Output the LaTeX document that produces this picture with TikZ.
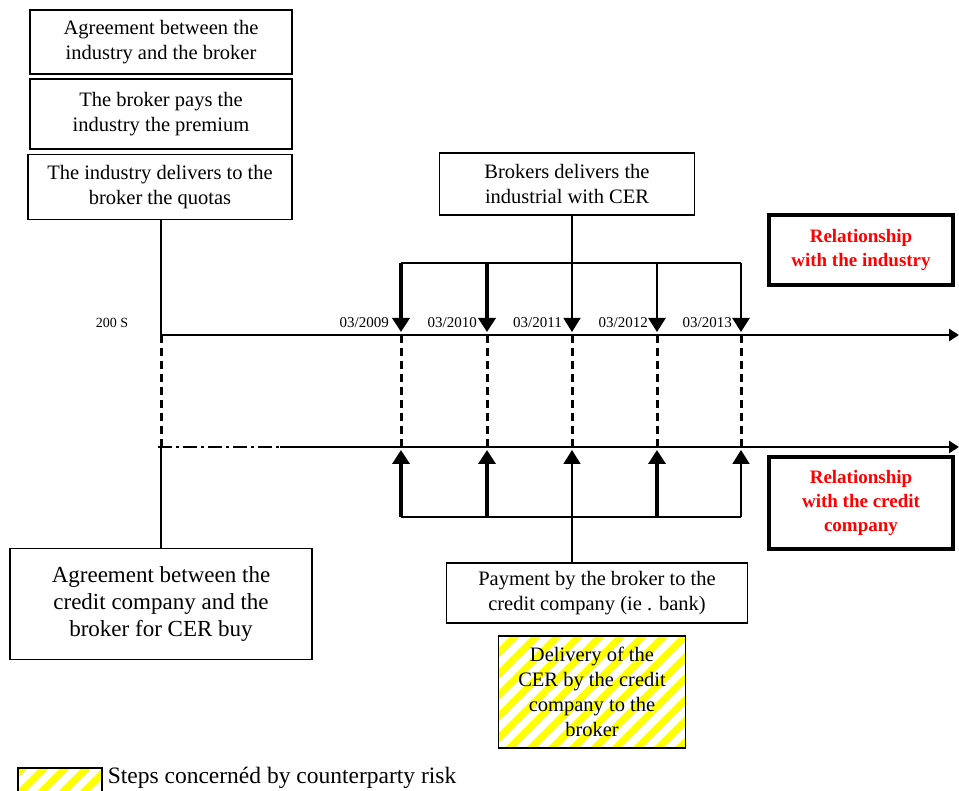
\documentclass[tikz,border=0pt]{standalone}
\usepackage{fontspec}
\setmainfont{Liberation Serif}
\usetikzlibrary{arrows.meta,positioning,patterns.meta}
\definecolor{relred}{RGB}{255,0,0}
\definecolor{hatchyellow}{RGB}{255,255,0}
\tikzset{
  stepbox/.style={rectangle,draw=black,line width=1.2pt,align=center,font=\fontsize{20.5}{25}\selectfont,inner sep=2pt},
  riskbox/.style={stepbox,pattern={Lines[angle=45,distance=15pt,line width=7pt]},pattern color=hatchyellow},
  relbox/.style={rectangle,draw=black,line width=4.5pt,align=center,text=relred,font=\fontsize{19}{24}\selectfont\bfseries},
  datelbl/.style={font=\fontsize{15}{17}\selectfont,anchor=base east,inner sep=0pt},
  timeline/.style={line width=2.8pt,-{Triangle[width=12pt,length=10pt]}},
  dropline/.style={line width=#1,-{Triangle[width=17pt,length=14pt]}},
  bracket/.style={line width=2pt},
  linkline/.style={line width=1.3pt},
  gapline/.style={line width=3pt,dash pattern=on 8pt off 5pt}
}

\begin{document}
\begin{tikzpicture}[x=1pt,y=-1pt]
  \useasboundingbox (0,0) rectangle (959,791);

  %% INDUSTRY SIDE
  \node[stepbox,minimum width=262pt,minimum height=64pt]
    (agr_ind) at (161,42) {Agreement between the\\industry and the broker};
  \node[stepbox,minimum width=262pt,minimum height=70pt]
    (premium) at (161,114) {The broker pays the\\industry the premium};
  \node[stepbox,minimum width=264pt,minimum height=65pt]
    (quotas) at (160,187) {The industry delivers to the\\broker the quotas};
  \node[stepbox,minimum width=255pt,minimum height=62pt]
    (cerdeliv) at (567,184) {Brokers delivers the\\industrial with CER};
  \node[relbox,minimum width=184pt,minimum height=70pt]
    (rel_ind) at (861,250) {Relationship\\with the industry};

  %% CREDIT COMPANY SIDE
  \node[stepbox,minimum width=302pt,minimum height=111pt,font=\fontsize{23}{27}\selectfont]
    (agr_cred) at (161,604) {Agreement between the\\credit company and the\\broker for CER buy};
  \node[stepbox,minimum width=301pt,minimum height=60pt]
    (payment) at (597,593) {Payment by the broker to the\\credit company (ie . bank)};
  \node[riskbox,minimum width=187pt,minimum height=112pt]
    (cerbank) at (592,692) {Delivery of the\\CER by the credit\\company to the\\broker};
  \node[relbox,minimum width=184pt,minimum height=92pt]
    (rel_cred) at (861,503) {Relationship\\with the credit\\company};

  %% TIMELINES
  \node[font=\fontsize{14}{16}\selectfont,inner sep=0pt] (year) at (112,323) {200 S};
  \coordinate (ind0) at (161,335);
  \coordinate (ind_end) at (959,335);
  \coordinate (cred0) at (158,447);
  \coordinate (cred_dash) at (280,447);
  \coordinate (cred_end) at (959,447);

  \coordinate (k1) at (401,263);
  \coordinate (k2) at (487,263);
  \coordinate (k3) at (572,263);
  \coordinate (k4) at (657,263);
  \coordinate (k5) at (741,263);
  \coordinate (m1) at (401,517);
  \coordinate (m2) at (487,517);
  \coordinate (m3) at (572,517);
  \coordinate (m4) at (657,517);
  \coordinate (m5) at (741,517);

  \node[datelbl] (d2009) at (389,328) {03/2009};
  \node[datelbl] (d2010) at (477,328) {03/2010};
  \node[datelbl] (d2011) at (562,328) {03/2011};
  \node[datelbl] (d2012) at (648,328) {03/2012};
  \node[datelbl] (d2013) at (732,328) {03/2013};

  %% LEGEND
  \node[riskbox,minimum width=84pt,minimum height=26pt] (legend) at (60,781) {};
  \node[right=5pt of legend,font=\fontsize{23.5}{27}\selectfont,inner sep=0pt,yshift=3pt]
    (legend_txt) {Steps concernéd by counterparty risk};

  %% CONNECTIONS
  \draw[linkline](quotas.south -| ind0) -- (ind0);
  \draw[gapline](ind0) -- (ind0 |- cred0);
  \draw[linkline](ind0 |- cred0) -- (agr_cred.north);

  \draw[timeline](ind0) -- (ind_end);
  \draw[line width=2.8pt,dash pattern=on 14pt off 4pt on 3pt off 4pt](cred0) -- (cred_dash);
  \draw[timeline](cred_dash) -- (cred_end);

  \draw[linkline](cerdeliv.south -| k3) -- (k3);
  \draw[bracket](k1) -- (k5);
  \draw[dropline=4pt,shorten >=3pt](k1) -- (k1 |- ind0);
  \draw[dropline=4pt,shorten >=3pt](k2) -- (k2 |- ind0);
  \draw[dropline=1.5pt,shorten >=3pt](k3) -- (k3 |- ind0);
  \draw[dropline=2.5pt,shorten >=3pt](k4) -- (k4 |- ind0);
  \draw[dropline=2.5pt,shorten >=3pt](k5) -- (k5 |- ind0);

  \draw[gapline](k1 |- ind0) -- (k1 |- cred0);
  \draw[gapline](k2 |- ind0) -- (k2 |- cred0);
  \draw[gapline](k3 |- ind0) -- (k3 |- cred0);
  \draw[gapline](k4 |- ind0) -- (k4 |- cred0);
  \draw[gapline](k5 |- ind0) -- (k5 |- cred0);

  \draw[bracket](m1) -- (m5);
  \draw[dropline=4pt,shorten >=3pt](m1) -- (m1 |- cred0);
  \draw[dropline=4pt,shorten >=3pt](m2) -- (m2 |- cred0);
  \draw[dropline=1.5pt,shorten >=3pt](payment.north -| m3) -- (m3 |- cred0);
  \draw[dropline=4pt,shorten >=3pt](m4) -- (m4 |- cred0);
  \draw[dropline=1.8pt,shorten >=3pt](m5) -- (m5 |- cred0);
\end{tikzpicture}
\end{document}
